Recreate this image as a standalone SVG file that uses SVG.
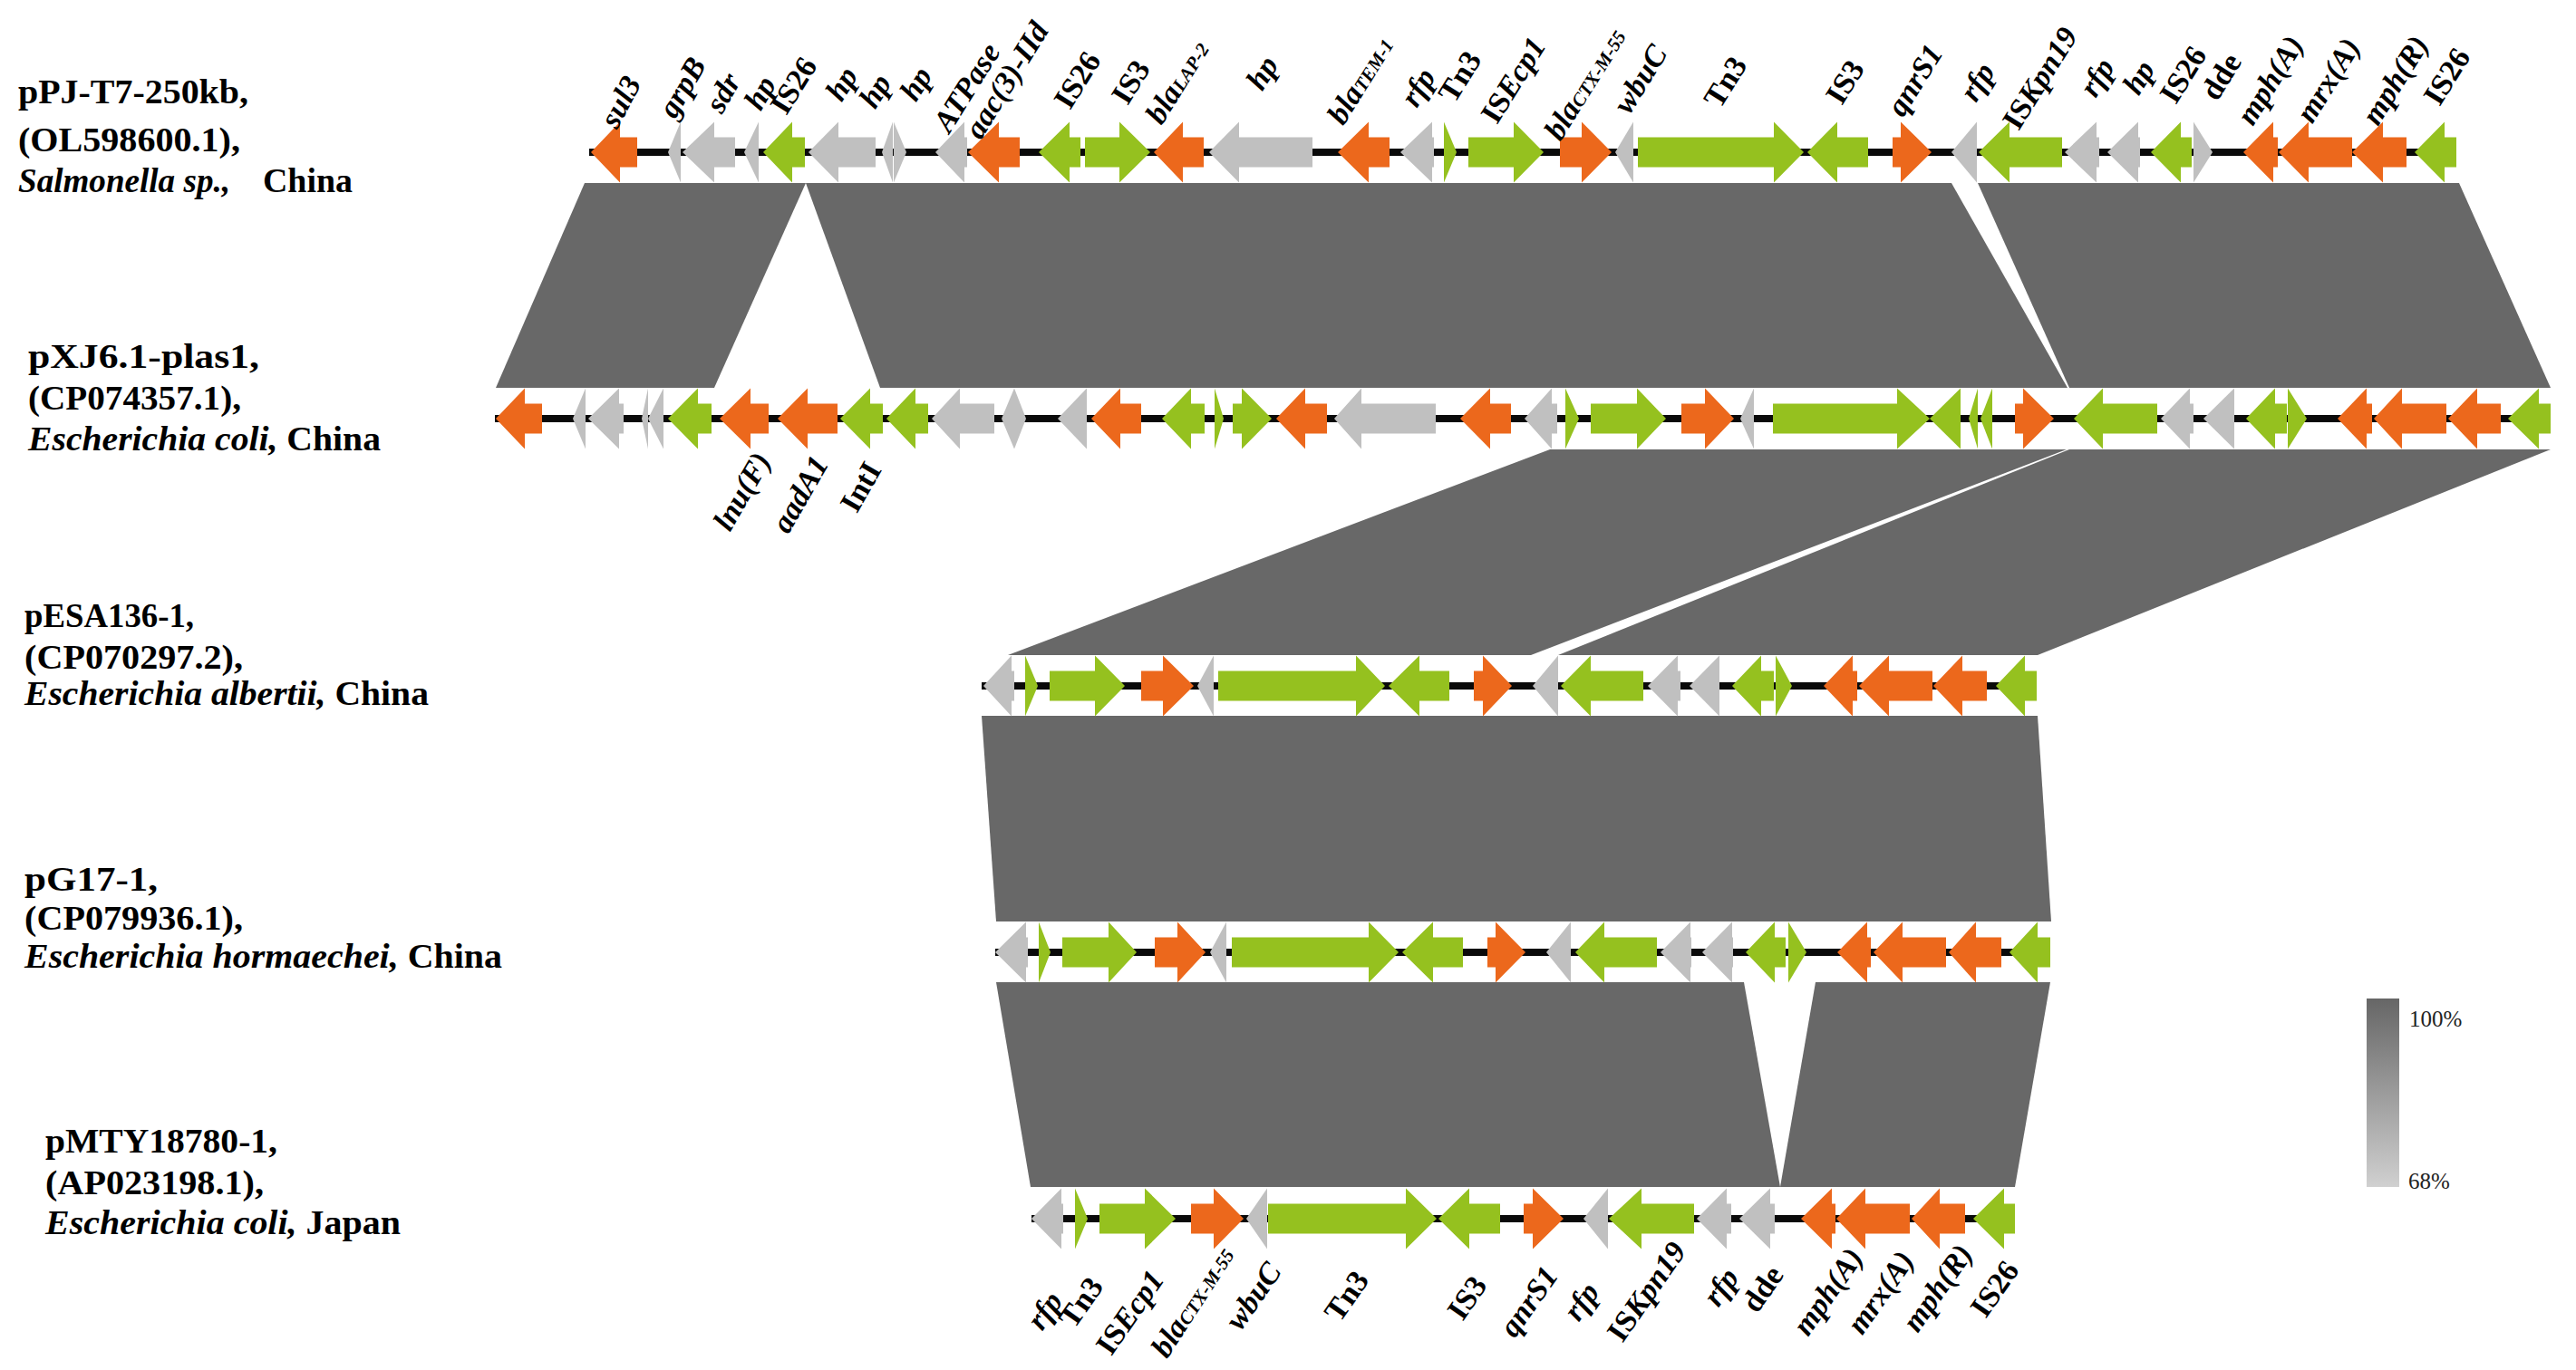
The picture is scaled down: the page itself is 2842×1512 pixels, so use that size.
<svg xmlns="http://www.w3.org/2000/svg" width="2842" height="1512" viewBox="0 0 2842 1512">
<defs>
<style>
.o{fill:#EC681C}.g{fill:#95C11F}.y{fill:#C0C0C0}.band{fill:#686868}.bb{fill:#0a0a0a}
text{font-family:"Liberation Serif","Times New Roman",serif;font-weight:bold;fill:#000}
.tl{font-size:37px}
.gl{font-size:34px;text-anchor:middle}
.i{font-style:italic}
.sub{font-size:21px}
.leg{font-weight:normal;font-size:25px;fill:#222}
</style>
<linearGradient id="lg" x1="0" y1="0" x2="0" y2="1"><stop offset="0" stop-color="#666666"/><stop offset="1" stop-color="#d0d0d0"/></linearGradient>
</defs>
<rect width="2842" height="1512" fill="#fff"/>
<g id="connectors">
<polygon class="band" points="645,202 889,202 788,428 547,428"/>
<polygon class="band" points="889,202 2153,202 2281,428 971,428"/>
<polygon class="band" points="2182,202 2713,202 2814,428 2283,428"/>
<polygon class="band" points="1710,496 2280,496 1689,723 1112,723"/>
<polygon class="band" points="2283,496 2814,496 2248,723 1719,723"/>
<polygon class="band" points="1083,790 2248,790 2263,1017 1099,1017"/>
<polygon class="band" points="1099,1084 1924,1084 1964,1310 1137,1310"/>
<polygon class="band" points="2003,1084 2262,1084 2223,1310 1964,1310"/>
</g>
<g id="track1" transform="translate(0,168)">
<rect class="bb" x="650" y="-4" width="2060" height="8"/>
<polygon class="o" points="652,0 684,-33.5 684,-16.5 703,-16.5 703,16.5 684,16.5 684,33.5"/>
<polygon class="y" points="737,0 751,-33.5 751,33.5"/>
<polygon class="y" points="753,0 788,-33.5 788,-16.5 811,-16.5 811,16.5 788,16.5 788,33.5"/>
<polygon class="y" points="821,0 837,-33.5 837,33.5"/>
<polygon class="g" points="842,0 874,-33.5 874,-16.5 888,-16.5 888,16.5 874,16.5 874,33.5"/>
<polygon class="y" points="892,0 925,-33.5 925,-16.5 966,-16.5 966,16.5 925,16.5 925,33.5"/>
<polygon class="y" points="973,0 985,-33.5 985,33.5"/>
<polygon class="y" points="986,-33.5 1000,0 986,33.5"/>
<polygon class="y" points="1032,0 1064,-33.5 1064,-16.5 1067,-16.5 1067,16.5 1064,16.5 1064,33.5"/>
<polygon class="o" points="1068,0 1102,-33.5 1102,-16.5 1125,-16.5 1125,16.5 1102,16.5 1102,33.5"/>
<polygon class="g" points="1146,0 1180,-33.5 1180,-16.5 1192,-16.5 1192,16.5 1180,16.5 1180,33.5"/>
<polygon class="g" points="1197,-16.5 1235,-16.5 1235,-33.5 1269,0 1235,33.5 1235,16.5 1197,16.5"/>
<polygon class="o" points="1273,0 1305,-33.5 1305,-16.5 1328,-16.5 1328,16.5 1305,16.5 1305,33.5"/>
<polygon class="y" points="1334,0 1367,-33.5 1367,-16.5 1448,-16.5 1448,16.5 1367,16.5 1367,33.5"/>
<polygon class="o" points="1476,0 1510,-33.5 1510,-16.5 1533,-16.5 1533,16.5 1510,16.5 1510,33.5"/>
<polygon class="y" points="1545,0 1580,-33.5 1580,-16.5 1582,-16.5 1582,16.5 1580,16.5 1580,33.5"/>
<polygon class="g" points="1593,-33.5 1607,0 1593,33.5"/>
<polygon class="g" points="1620,-16.5 1670,-16.5 1670,-33.5 1703,0 1670,33.5 1670,16.5 1620,16.5"/>
<polygon class="o" points="1721,-16.5 1745,-16.5 1745,-33.5 1778,0 1745,33.5 1745,16.5 1721,16.5"/>
<polygon class="y" points="1782,0 1802,-33.5 1802,33.5"/>
<polygon class="g" points="1807,-16.5 1957,-16.5 1957,-33.5 1990,0 1957,33.5 1957,16.5 1807,16.5"/>
<polygon class="g" points="1994,0 2027,-33.5 2027,-16.5 2061,-16.5 2061,16.5 2027,16.5 2027,33.5"/>
<polygon class="o" points="2088,-16.5 2097,-16.5 2097,-33.5 2131,0 2097,33.5 2097,16.5 2088,16.5"/>
<polygon class="y" points="2153,0 2181,-33.5 2181,33.5"/>
<polygon class="g" points="2183,0 2217,-33.5 2217,-16.5 2275,-16.5 2275,16.5 2217,16.5 2217,33.5"/>
<polygon class="y" points="2278,0 2313,-33.5 2313,-16.5 2316,-16.5 2316,16.5 2313,16.5 2313,33.5"/>
<polygon class="y" points="2325,0 2359,-33.5 2359,-16.5 2361,-16.5 2361,16.5 2359,16.5 2359,33.5"/>
<polygon class="g" points="2373,0 2406,-33.5 2406,-16.5 2418,-16.5 2418,16.5 2406,16.5 2406,33.5"/>
<polygon class="y" points="2420,-33.5 2441,0 2420,33.5"/>
<polygon class="o" points="2475,0 2508,-33.5 2508,-16.5 2513,-16.5 2513,16.5 2508,16.5 2508,33.5"/>
<polygon class="o" points="2514,0 2547,-33.5 2547,-16.5 2595,-16.5 2595,16.5 2547,16.5 2547,33.5"/>
<polygon class="o" points="2595,0 2629,-33.5 2629,-16.5 2655,-16.5 2655,16.5 2629,16.5 2629,33.5"/>
<polygon class="g" points="2664,0 2697,-33.5 2697,-16.5 2710,-16.5 2710,16.5 2697,16.5 2697,33.5"/>
</g>
<g id="track2" transform="translate(0,462)">
<rect class="bb" x="546" y="-4" width="2268" height="8"/>
<polygon class="o" points="547,0 579,-33.5 579,-16.5 598,-16.5 598,16.5 579,16.5 579,33.5"/>
<polygon class="y" points="632,0 646,-33.5 646,33.5"/>
<polygon class="y" points="649,0 683,-33.5 683,-16.5 688,-16.5 688,16.5 683,16.5 683,33.5"/>
<polygon class="y" points="708,0 715,-33.5 715,33.5"/>
<polygon class="y" points="715,0 732,-33.5 732,33.5"/>
<polygon class="g" points="737,0 770,-33.5 770,-16.5 785,-16.5 785,16.5 770,16.5 770,33.5"/>
<polygon class="o" points="794,0 828,-33.5 828,-16.5 848,-16.5 848,16.5 828,16.5 828,33.5"/>
<polygon class="o" points="858,0 891,-33.5 891,-16.5 924,-16.5 924,16.5 891,16.5 891,33.5"/>
<polygon class="g" points="927,0 960,-33.5 960,-16.5 974,-16.5 974,16.5 960,16.5 960,33.5"/>
<polygon class="g" points="978,0 1010,-33.5 1010,-16.5 1024,-16.5 1024,16.5 1010,16.5 1010,33.5"/>
<polygon class="y" points="1028,0 1059,-33.5 1059,-16.5 1097,-16.5 1097,16.5 1059,16.5 1059,33.5"/>
<polygon class="y" points="1105,0 1119,-33.5 1119,33.5"/>
<polygon class="y" points="1119,-33.5 1132,0 1119,33.5"/>
<polygon class="y" points="1167,0 1199,-33.5 1199,33.5"/>
<polygon class="o" points="1204,0 1236,-33.5 1236,-16.5 1259,-16.5 1259,16.5 1236,16.5 1236,33.5"/>
<polygon class="g" points="1282,0 1314,-33.5 1314,-16.5 1329,-16.5 1329,16.5 1314,16.5 1314,33.5"/>
<polygon class="g" points="1340,-33.5 1350,0 1340,33.5"/>
<polygon class="g" points="1360,-16.5 1370,-16.5 1370,-33.5 1403,0 1370,33.5 1370,16.5 1360,16.5"/>
<polygon class="o" points="1408,0 1440,-33.5 1440,-16.5 1464,-16.5 1464,16.5 1440,16.5 1440,33.5"/>
<polygon class="y" points="1472,0 1502,-33.5 1502,-16.5 1584,-16.5 1584,16.5 1502,16.5 1502,33.5"/>
<polygon class="o" points="1611,0 1644,-33.5 1644,-16.5 1667,-16.5 1667,16.5 1644,16.5 1644,33.5"/>
<polygon class="y" points="1682,0 1712,-33.5 1712,-16.5 1718,-16.5 1718,16.5 1712,16.5 1712,33.5"/>
<polygon class="g" points="1727,-33.5 1742,0 1727,33.5"/>
<polygon class="g" points="1755,-16.5 1806,-16.5 1806,-33.5 1838,0 1806,33.5 1806,16.5 1755,16.5"/>
<polygon class="o" points="1855,-16.5 1881,-16.5 1881,-33.5 1913,0 1881,33.5 1881,16.5 1855,16.5"/>
<polygon class="y" points="1920,0 1935,-33.5 1935,33.5"/>
<polygon class="g" points="1956,-16.5 2093,-16.5 2093,-33.5 2129,0 2093,33.5 2093,16.5 1956,16.5"/>
<polygon class="g" points="2129,0 2163,-33.5 2163,33.5"/>
<polygon class="g" points="2172,0 2182,-33.5 2182,33.5"/>
<polygon class="g" points="2185,0 2198,-33.5 2198,33.5"/>
<polygon class="o" points="2223,-16.5 2232,-16.5 2232,-33.5 2266,0 2232,33.5 2232,16.5 2223,16.5"/>
<polygon class="g" points="2288,0 2320,-33.5 2320,-16.5 2380,-16.5 2380,16.5 2320,16.5 2320,33.5"/>
<polygon class="y" points="2384,0 2416,-33.5 2416,-16.5 2420,-16.5 2420,16.5 2416,16.5 2416,33.5"/>
<polygon class="y" points="2431,0 2465,-33.5 2465,33.5"/>
<polygon class="g" points="2478,0 2510,-33.5 2510,-16.5 2523,-16.5 2523,16.5 2510,16.5 2510,33.5"/>
<polygon class="g" points="2524,-33.5 2545,0 2524,33.5"/>
<polygon class="o" points="2579,0 2611,-33.5 2611,-16.5 2617,-16.5 2617,16.5 2611,16.5 2611,33.5"/>
<polygon class="o" points="2619,0 2650,-33.5 2650,-16.5 2699,-16.5 2699,16.5 2650,16.5 2650,33.5"/>
<polygon class="o" points="2701,0 2733,-33.5 2733,-16.5 2759,-16.5 2759,16.5 2733,16.5 2733,33.5"/>
<polygon class="g" points="2767,0 2801,-33.5 2801,-16.5 2814,-16.5 2814,16.5 2801,16.5 2801,33.5"/>
</g>
<g id="track3" transform="translate(0,757)">
<rect class="bb" x="1083" y="-4" width="1164" height="8"/>
<polygon class="y" points="1085,0 1116,-33.5 1116,-16.5 1119,-16.5 1119,16.5 1116,16.5 1116,33.5"/>
<polygon class="g" points="1131,-33.5 1145,0 1131,33.5"/>
<polygon class="g" points="1158,-16.5 1208,-16.5 1208,-33.5 1241,0 1208,33.5 1208,16.5 1158,16.5"/>
<polygon class="o" points="1259,-16.5 1283,-16.5 1283,-33.5 1317,0 1283,33.5 1283,16.5 1259,16.5"/>
<polygon class="y" points="1321,0 1339,-33.5 1339,33.5"/>
<polygon class="g" points="1344,-16.5 1496,-16.5 1496,-33.5 1528,0 1496,33.5 1496,16.5 1344,16.5"/>
<polygon class="g" points="1532,0 1566,-33.5 1566,-16.5 1599,-16.5 1599,16.5 1566,16.5 1566,33.5"/>
<polygon class="o" points="1626,-16.5 1636,-16.5 1636,-33.5 1668,0 1636,33.5 1636,16.5 1626,16.5"/>
<polygon class="y" points="1691,0 1719,-33.5 1719,33.5"/>
<polygon class="g" points="1722,0 1755,-33.5 1755,-16.5 1813,-16.5 1813,16.5 1755,16.5 1755,33.5"/>
<polygon class="y" points="1818,0 1851,-33.5 1851,-16.5 1854,-16.5 1854,16.5 1851,16.5 1851,33.5"/>
<polygon class="y" points="1864,0 1897,-33.5 1897,33.5"/>
<polygon class="g" points="1911,0 1943,-33.5 1943,-16.5 1957,-16.5 1957,16.5 1943,16.5 1943,33.5"/>
<polygon class="g" points="1959,-33.5 1977,0 1959,33.5"/>
<polygon class="o" points="2012,0 2044,-33.5 2044,-16.5 2049,-16.5 2049,16.5 2044,16.5 2044,33.5"/>
<polygon class="o" points="2051,0 2084,-33.5 2084,-16.5 2132,-16.5 2132,16.5 2084,16.5 2084,33.5"/>
<polygon class="o" points="2133,0 2165,-33.5 2165,-16.5 2192,-16.5 2192,16.5 2165,16.5 2165,33.5"/>
<polygon class="g" points="2202,0 2234,-33.5 2234,-16.5 2247,-16.5 2247,16.5 2234,16.5 2234,33.5"/>
</g>
<g id="track4" transform="translate(0,1051)">
<rect class="bb" x="1098" y="-4" width="1164" height="8"/>
<polygon class="y" points="1098,0 1132,-33.5 1132,-16.5 1134,-16.5 1134,16.5 1132,16.5 1132,33.5"/>
<polygon class="g" points="1146,-33.5 1159,0 1146,33.5"/>
<polygon class="g" points="1172,-16.5 1223,-16.5 1223,-33.5 1254,0 1223,33.5 1223,16.5 1172,16.5"/>
<polygon class="o" points="1274,-16.5 1299,-16.5 1299,-33.5 1330,0 1299,33.5 1299,16.5 1274,16.5"/>
<polygon class="y" points="1335,0 1353,-33.5 1353,33.5"/>
<polygon class="g" points="1359,-16.5 1510,-16.5 1510,-33.5 1543,0 1510,33.5 1510,16.5 1359,16.5"/>
<polygon class="g" points="1547,0 1581,-33.5 1581,-16.5 1614,-16.5 1614,16.5 1581,16.5 1581,33.5"/>
<polygon class="o" points="1641,-16.5 1650,-16.5 1650,-33.5 1683,0 1650,33.5 1650,16.5 1641,16.5"/>
<polygon class="y" points="1706,0 1733,-33.5 1733,33.5"/>
<polygon class="g" points="1738,0 1770,-33.5 1770,-16.5 1828,-16.5 1828,16.5 1770,16.5 1770,33.5"/>
<polygon class="y" points="1832,0 1865,-33.5 1865,-16.5 1866,-16.5 1866,16.5 1865,16.5 1865,33.5"/>
<polygon class="y" points="1878,0 1911,-33.5 1911,-16.5 1912,-16.5 1912,16.5 1911,16.5 1911,33.5"/>
<polygon class="g" points="1926,0 1958,-33.5 1958,-16.5 1970,-16.5 1970,16.5 1958,16.5 1958,33.5"/>
<polygon class="g" points="1973,-33.5 1993,0 1973,33.5"/>
<polygon class="o" points="2027,0 2060,-33.5 2060,-16.5 2064,-16.5 2064,16.5 2060,16.5 2060,33.5"/>
<polygon class="o" points="2067,0 2099,-33.5 2099,-16.5 2147,-16.5 2147,16.5 2099,16.5 2099,33.5"/>
<polygon class="o" points="2150,0 2180,-33.5 2180,-16.5 2208,-16.5 2208,16.5 2180,16.5 2180,33.5"/>
<polygon class="g" points="2217,0 2248,-33.5 2248,-16.5 2262,-16.5 2262,16.5 2248,16.5 2248,33.5"/>
</g>
<g id="track5" transform="translate(0,1345)">
<rect class="bb" x="1138" y="-4" width="1085" height="8"/>
<polygon class="y" points="1138,0 1171,-33.5 1171,-16.5 1173,-16.5 1173,16.5 1171,16.5 1171,33.5"/>
<polygon class="g" points="1186,-33.5 1200,0 1186,33.5"/>
<polygon class="g" points="1213,-16.5 1263,-16.5 1263,-33.5 1297,0 1263,33.5 1263,16.5 1213,16.5"/>
<polygon class="o" points="1314,-16.5 1339,-16.5 1339,-33.5 1372,0 1339,33.5 1339,16.5 1314,16.5"/>
<polygon class="y" points="1375,0 1398,-33.5 1398,33.5"/>
<polygon class="g" points="1399,-16.5 1551,-16.5 1551,-33.5 1585,0 1551,33.5 1551,16.5 1399,16.5"/>
<polygon class="g" points="1587,0 1621,-33.5 1621,-16.5 1655,-16.5 1655,16.5 1621,16.5 1621,33.5"/>
<polygon class="o" points="1681,-16.5 1691,-16.5 1691,-33.5 1725,0 1691,33.5 1691,16.5 1681,16.5"/>
<polygon class="y" points="1747,0 1774,-33.5 1774,33.5"/>
<polygon class="g" points="1775,0 1811,-33.5 1811,-16.5 1869,-16.5 1869,16.5 1811,16.5 1811,33.5"/>
<polygon class="y" points="1872,0 1905,-33.5 1905,-16.5 1910,-16.5 1910,16.5 1905,16.5 1905,33.5"/>
<polygon class="y" points="1919,0 1953,-33.5 1953,-16.5 1958,-16.5 1958,16.5 1953,16.5 1953,33.5"/>
<polygon class="o" points="1987,0 2021,-33.5 2021,-16.5 2025,-16.5 2025,16.5 2021,16.5 2021,33.5"/>
<polygon class="o" points="2026,0 2058,-33.5 2058,-16.5 2107,-16.5 2107,16.5 2058,16.5 2058,33.5"/>
<polygon class="o" points="2109,0 2140,-33.5 2140,-16.5 2168,-16.5 2168,16.5 2140,16.5 2140,33.5"/>
<polygon class="g" points="2177,0 2211,-33.5 2211,-16.5 2223,-16.5 2223,16.5 2211,16.5 2211,33.5"/>
</g>
<g id="track-labels">
<text class="tl" x="20" y="114" textLength="254" lengthAdjust="spacingAndGlyphs">pPJ-T7-250kb,</text>
<text class="tl" x="20" y="167" textLength="245" lengthAdjust="spacingAndGlyphs">(OL598600.1),</text>
<text class="tl i" x="20" y="212" textLength="234" lengthAdjust="spacingAndGlyphs">Salmonella sp.,</text>
<text class="tl" x="290" y="212" textLength="99" lengthAdjust="spacingAndGlyphs">China</text>
<text class="tl" x="31" y="406" textLength="255" lengthAdjust="spacingAndGlyphs">pXJ6.1-plas1,</text>
<text class="tl" x="31" y="452" textLength="235" lengthAdjust="spacingAndGlyphs">(CP074357.1),</text>
<text class="tl" x="31" y="497" textLength="389" lengthAdjust="spacingAndGlyphs"><tspan class="i">Escherichia coli,</tspan> China</text>
<text class="tl" x="27" y="692" textLength="187" lengthAdjust="spacingAndGlyphs">pESA136-1,</text>
<text class="tl" x="27" y="738" textLength="241" lengthAdjust="spacingAndGlyphs">(CP070297.2),</text>
<text class="tl" x="27" y="778" textLength="446" lengthAdjust="spacingAndGlyphs"><tspan class="i">Escherichia albertii,</tspan> China</text>
<text class="tl" x="27" y="983" textLength="147" lengthAdjust="spacingAndGlyphs">pG17-1,</text>
<text class="tl" x="27" y="1026" textLength="241" lengthAdjust="spacingAndGlyphs">(CP079936.1),</text>
<text class="tl" x="27" y="1068" textLength="527" lengthAdjust="spacingAndGlyphs"><tspan class="i">Escherichia hormaechei,</tspan> China</text>
<text class="tl" x="50" y="1272" textLength="256" lengthAdjust="spacingAndGlyphs">pMTY18780-1,</text>
<text class="tl" x="50" y="1318" textLength="241" lengthAdjust="spacingAndGlyphs">(AP023198.1),</text>
<text class="tl" x="50" y="1362" textLength="392" lengthAdjust="spacingAndGlyphs"><tspan class="i">Escherichia coli,</tspan> Japan</text>
</g>
<g id="gene-labels-1">
<text class="gl i" transform="translate(684,112) rotate(-62)" dy="0.35em" font-size="44">sul3</text>
<text class="gl i" transform="translate(752,96) rotate(-60)" dy="0.35em">grpB</text>
<text class="gl i" transform="translate(797,102) rotate(-60)" dy="0.35em" font-size="38">sdr</text>
<text class="gl i" transform="translate(838,102) rotate(-60)" dy="0.35em" font-size="36">hp</text>
<text class="gl" transform="translate(875,94) rotate(-58)" dy="0.35em">IS26</text>
<text class="gl i" transform="translate(928,92) rotate(-58)" dy="0.35em" font-size="36">hp</text>
<text class="gl i" transform="translate(965,100) rotate(-58)" dy="0.35em" font-size="36">hp</text>
<text class="gl i" transform="translate(1010,92) rotate(-58)" dy="0.35em" font-size="36">hp</text>
<text class="gl i" transform="translate(1066,96) rotate(-58)" dy="0.35em" font-size="30">ATPase</text>
<text class="gl i" transform="translate(1110,88) rotate(-58)" dy="0.35em" font-size="28">aac(3)-IId</text>
<text class="gl" transform="translate(1188,88) rotate(-58)" dy="0.35em" font-size="35">IS26</text>
<text class="gl" transform="translate(1247,90) rotate(-58)" dy="0.35em" font-size="38">IS3</text>
<text class="gl i" transform="translate(1298,90) rotate(-58)" dy="0.35em" font-size="30">bla<tspan class="sub">LAP-2</tspan></text>
<text class="gl i" transform="translate(1392,80) rotate(-58)" dy="0.35em" font-size="46">hp</text>
<text class="gl i" transform="translate(1500,88) rotate(-58)" dy="0.35em" font-size="30">bla<tspan class="sub">TEM-1</tspan></text>
<text class="gl i" transform="translate(1564,96) rotate(-58)" dy="0.35em" font-size="35">rfp</text>
<text class="gl" transform="translate(1610,84) rotate(-58)" dy="0.35em">Tn3</text>
<text class="gl" transform="translate(1669,88) rotate(-58)" dy="0.35em" font-size="35">IS<tspan class="i">Ecp1</tspan></text>
<text class="gl i" transform="translate(1748,92) rotate(-58)" dy="0.35em" font-size="30">bla<tspan class="sub">CTX-M-55</tspan></text>
<text class="gl i" transform="translate(1809,87) rotate(-58)" dy="0.35em">wbuC</text>
<text class="gl" transform="translate(1903,90) rotate(-58)" dy="0.35em" font-size="35">Tn3</text>
<text class="gl" transform="translate(2035,90) rotate(-58)" dy="0.35em" font-size="38">IS3</text>
<text class="gl i" transform="translate(2112,88) rotate(-58)" dy="0.35em" font-size="30">qnrS1</text>
<text class="gl i" transform="translate(2181,90) rotate(-58)" dy="0.35em" font-size="35">rfp</text>
<text class="gl" transform="translate(2250,86) rotate(-58)" dy="0.35em" font-size="33">IS<tspan class="i">Kpn19</tspan></text>
<text class="gl i" transform="translate(2313,85) rotate(-58)" dy="0.35em" font-size="35">rfp</text>
<text class="gl i" transform="translate(2359,85) rotate(-58)" dy="0.35em" font-size="35">hp</text>
<text class="gl" transform="translate(2408,82) rotate(-58)" dy="0.35em" font-size="33">IS26</text>
<text class="gl" transform="translate(2450,84) rotate(-58)" dy="0.35em" font-size="35">dde</text>
<text class="gl i" transform="translate(2504,88) rotate(-58)" dy="0.35em" font-size="30">mph(A)</text>
<text class="gl i" transform="translate(2568,88) rotate(-58)" dy="0.35em" font-size="30">mrx(A)</text>
<text class="gl i" transform="translate(2642,88) rotate(-58)" dy="0.35em" font-size="30">mph(R)</text>
<text class="gl" transform="translate(2699,84) rotate(-58)" dy="0.35em" font-size="35">IS26</text>
</g>
<g id="gene-labels-2">
<text class="gl i" transform="translate(818,542) rotate(-60)" dy="0.35em">lnu(F)</text>
<text class="gl i" transform="translate(882,545) rotate(-60)" dy="0.35em" font-size="35">aadA1</text>
<text class="gl" transform="translate(949,537) rotate(-60)" dy="0.35em" font-size="38">IntI</text>
</g>
<g id="gene-labels-5">
<text class="gl i" transform="translate(1152,1446) rotate(-55)" dy="0.35em" font-size="35">rfp</text>
<text class="gl" transform="translate(1192,1437) rotate(-55)" dy="0.35em" font-size="35">Tn3</text>
<text class="gl" transform="translate(1246,1448) rotate(-55)" dy="0.35em" font-size="35">IS<tspan class="i">Ecp1</tspan></text>
<text class="gl i" transform="translate(1315,1436) rotate(-57)" dy="0.35em" font-size="32">bla<tspan class="sub">CTX-M-55</tspan></text>
<text class="gl i" transform="translate(1382,1430) rotate(-55)" dy="0.35em" font-size="35">wbuC</text>
<text class="gl" transform="translate(1485,1430) rotate(-55)" dy="0.35em" font-size="36">Tn3</text>
<text class="gl" transform="translate(1618,1432) rotate(-55)" dy="0.35em" font-size="38">IS3</text>
<text class="gl i" transform="translate(1686,1436) rotate(-55)" dy="0.35em" font-size="32">qnrS1</text>
<text class="gl i" transform="translate(1744,1436) rotate(-55)" dy="0.35em" font-size="35">rfp</text>
<text class="gl" transform="translate(1816,1425) rotate(-55)" dy="0.35em" font-size="36">IS<tspan class="i">Kpn19</tspan></text>
<text class="gl i" transform="translate(1898,1420) rotate(-55)" dy="0.35em" font-size="35">rfp</text>
<text class="gl" transform="translate(1944,1422) rotate(-55)" dy="0.35em" font-size="35">dde</text>
<text class="gl i" transform="translate(2016,1425) rotate(-55)" dy="0.35em" font-size="34">mph(A)</text>
<text class="gl i" transform="translate(2074,1426) rotate(-55)" dy="0.35em" font-size="34">mrx(A)</text>
<text class="gl i" transform="translate(2137,1421) rotate(-55)" dy="0.35em" font-size="34">mph(R)</text>
<text class="gl" transform="translate(2200,1422) rotate(-55)" dy="0.35em" font-size="35">IS26</text>
</g>
<g id="legend">
<rect x="2611" y="1102" width="36" height="208" fill="url(#lg)"/>
<text class="leg" x="2658" y="1133">100%</text>
<text class="leg" x="2657" y="1312">68%</text>
</g>
</svg>
